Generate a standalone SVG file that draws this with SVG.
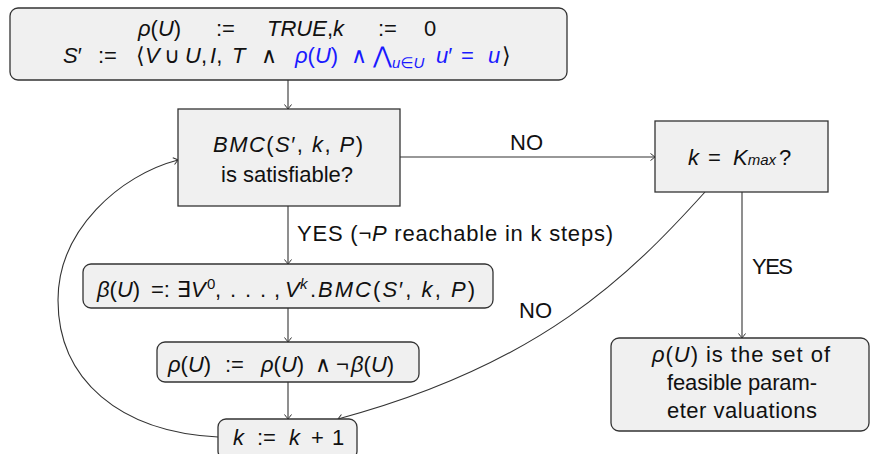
<svg xmlns="http://www.w3.org/2000/svg" width="870" height="454" viewBox="0 0 870 454">
<defs>
<marker id="arr" markerWidth="10" markerHeight="10" viewBox="-6 -5 8 10" refX="0" refY="0" orient="auto" markerUnits="userSpaceOnUse">
<path d="M-4.5,-3.5 Q-1.2,-1 0,0 Q-1.2,1 -4.5,3.5" fill="none" stroke="#333" stroke-width="1"/>
</marker>
<style>
text{font-family:"Liberation Sans","DejaVu Sans",sans-serif;font-size:22px;fill:#111}
.i{font-style:italic}
.b{fill:#1a1aff}
.box{fill:#f0f0f0;stroke:#333;stroke-width:1.3}
.c{fill:none;stroke:#333;stroke-width:1.1}
.s{font-size:15px}
</style>
</defs>
<g id="connectors">
<path class="c" d="M288,80 V109" marker-end="url(#arr)"/>
<path class="c" d="M400,157 H655" marker-end="url(#arr)"/>
<path class="c" d="M288,206 V264" marker-end="url(#arr)"/>
<path class="c" d="M288,308 V342" marker-end="url(#arr)"/>
<path class="c" d="M288,382 V419" marker-end="url(#arr)"/>
<path class="c" d="M742,192 V338" marker-end="url(#arr)"/>
<path class="c" d="M705,192 C630,275 540,365 338,419" marker-end="url(#arr)"/>
<path class="c" d="M218,437 C120,432 58,380 58,300 C58,230 120,175 178,160" marker-end="url(#arr)"/>
<text x="510" y="150" textLength="33">NO</text>
<text x="297" y="241" textLength="316" lengthAdjust="spacing">YES (<tspan>¬</tspan><tspan class="i">P</tspan> reachable in k steps)</text>
<text x="752" y="274" textLength="41">YES</text>
<text x="519" y="318" textLength="33">NO</text>
</g>
<g id="init">
<rect class="box" x="10" y="8" width="557" height="72" rx="8"/>
<text y="36"><tspan x="138" class="i">ρ</tspan><tspan>(</tspan><tspan class="i">U</tspan><tspan>)</tspan><tspan x="216">:=</tspan><tspan x="267" class="i">TRUE</tspan><tspan>,</tspan><tspan class="i">k</tspan><tspan x="378">:=</tspan><tspan x="424">0</tspan></text>
<text y="63"><tspan x="63" class="i">S</tspan><tspan>′</tspan><tspan x="98">:=</tspan><tspan x="136">⟨</tspan><tspan x="145" class="i">V</tspan><tspan x="164">∪</tspan><tspan x="185" class="i">U</tspan><tspan>,</tspan><tspan x="210" class="i">I</tspan><tspan>,</tspan><tspan x="232" class="i">T</tspan><tspan x="261">∧</tspan><tspan x="295" class="b i">ρ</tspan><tspan class="b">(</tspan><tspan class="b i">U</tspan><tspan class="b">)</tspan><tspan x="351" class="b">∧</tspan><tspan x="373" class="b" style="font-size:23px">⋀</tspan><tspan x="392" dy="5" class="b i s">u</tspan><tspan class="b s">∈</tspan><tspan class="b i s">U</tspan><tspan x="436" dy="-5" class="b i">u</tspan><tspan class="b">′</tspan><tspan x="461" class="b">=</tspan><tspan x="488" class="b i">u</tspan><tspan x="502">⟩</tspan></text>
</g>
<g id="bmc">
<rect class="box" x="178" y="109" width="222" height="97"/>
<text x="213" y="152" textLength="150" lengthAdjust="spacing"><tspan class="i">BMC</tspan>(<tspan class="i">S</tspan>′, <tspan class="i">k</tspan>, <tspan class="i">P</tspan>)</text>
<text x="221" y="182" textLength="132">is satisfiable?</text>
</g>
<g id="kmax">
<rect class="box" x="655" y="121" width="173" height="71"/>
<text y="165"><tspan x="688" class="i">k</tspan><tspan x="708">=</tspan><tspan x="733" class="i">K</tspan><tspan class="i s">max</tspan><tspan x="779">?</tspan></text>
</g>
<g id="result">
<rect class="box" x="611" y="338" width="258" height="93" rx="8"/>
<text x="652" y="362" textLength="178" lengthAdjust="spacing"><tspan class="i">ρ</tspan>(<tspan class="i">U</tspan>) is the set of</text>
<text x="667" y="390" textLength="150">feasible param-</text>
<text x="667" y="418" textLength="150">eter valuations</text>
</g>
<g id="beta">
<rect class="box" x="83" y="264" width="410" height="44" rx="8"/>
<text y="297"><tspan x="97" class="i">β</tspan><tspan>(</tspan><tspan class="i">U</tspan><tspan>)</tspan><tspan x="151">=:</tspan><tspan x="177">∃</tspan><tspan x="191" class="i">V</tspan><tspan x="207" dy="-8" class="s">0</tspan><tspan x="215" dy="8">,</tspan><tspan x="230">.</tspan><tspan x="245">.</tspan><tspan x="260">.</tspan><tspan x="274">,</tspan><tspan x="285" class="i">V</tspan><tspan x="300" dy="-8" class="i s">k</tspan><tspan x="310" dy="8">.</tspan></text>
<text x="318" y="297" textLength="157" lengthAdjust="spacing"><tspan class="i">BMC</tspan>(<tspan class="i">S</tspan>′, <tspan class="i">k</tspan>, <tspan class="i">P</tspan>)</text>
</g>
<g id="rho">
<rect class="box" x="157" y="342" width="262" height="40" rx="8"/>
<text y="372"><tspan x="168" class="i">ρ</tspan><tspan>(</tspan><tspan class="i">U</tspan><tspan>)</tspan><tspan x="225">:=</tspan><tspan x="261" class="i">ρ</tspan><tspan>(</tspan><tspan class="i">U</tspan><tspan>)</tspan><tspan x="315">∧</tspan><tspan x="336">¬</tspan><tspan x="351" class="i">β</tspan><tspan>(</tspan><tspan class="i">U</tspan><tspan>)</tspan></text>
</g>
<g id="inc">
<rect class="box" x="218" y="419" width="139" height="40" rx="8"/>
<text y="445"><tspan x="233" class="i">k</tspan><tspan x="257">:=</tspan><tspan x="289" class="i">k</tspan><tspan x="311">+</tspan><tspan x="332">1</tspan></text>
</g>
</svg>
